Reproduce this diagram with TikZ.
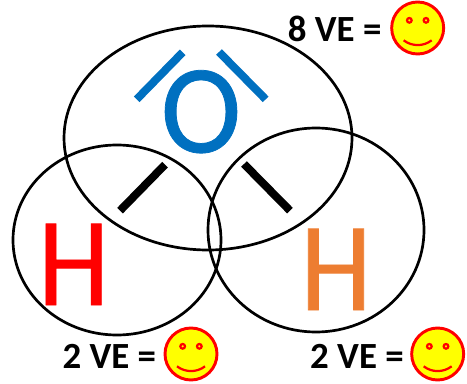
\documentclass[tikz,border=0pt]{standalone}
\usepackage{fontspec}
\setmainfont{Carlito}
\newfontfamily\atomfont[FakeBold=0.6]{Carlito}
\usepackage{xcolor}
\usepackage{graphicx}
\usetikzlibrary{arrows.meta, positioning}
\definecolor{blueA}{HTML}{0070C0}
\definecolor{redA}{HTML}{FF0000}
\definecolor{orangeA}{HTML}{ED7D31}
\definecolor{yellowA}{HTML}{FFFF00}
\tikzset{
  shell/.style={draw=black, line width=2.3pt},
  atom/.style={text=#1, inner sep=0pt, anchor=base, font=\atomfont\fontsize{108}{108}\selectfont},
  count/.style={inner sep=0pt, anchor=base east, font=\fontsize{31.5}{31.5}\selectfont\bfseries},
  bond/.style={draw=#1, line width=6.8pt},
  face/.style={circle, draw=redA, fill=yellowA, line width=2.5pt, minimum size=1.56cm, inner sep=0pt},
  eye/.style={draw=redA, line width=1.9pt},
  pics/smiley/.style={code={
    \node[face] (-disc) at (0,0) {};
    \draw[eye] (-0.25,0.23) circle (0.07);
    \draw[eye] (0.25,0.23) circle (0.07);
    \draw[eye] (-0.42,-0.37) .. controls (-0.17,-0.56) and (0.17,-0.56) .. (0.42,-0.37);
  }}
}
\begin{document}
\begin{tikzpicture}
  \useasboundingbox (0,0) rectangle (14.01,11.49);
  \draw[shell] (6.24,7.35) ellipse [x radius=4.32, y radius=3.36];
  \draw[shell] (3.51,4.29) ellipse [x radius=3.12, y radius=2.85];
  \draw[shell] (9.48,4.59) ellipse [x radius=3.24, y radius=3.06];
  \node[atom=blueA] (oxygen) at (6.03,6.92) {\scalebox{0.96}[1]{O}};
  \node[atom=redA] (hleft) at (2.21,2.34) {\scalebox{0.9}[1]{H}};
  \node[atom=orangeA] (hright) at (10.08,2.19) {\scalebox{0.9}[1]{H}};
  \draw[bond=blueA] (4.10,8.51) -- (5.48,9.92);
  \draw[bond=blueA] (6.57,9.93) -- (7.97,8.51);
  \draw[bond=black] (4.95,6.55) -- (3.60,5.17);
  \draw[bond=black] (7.32,6.57) -- (8.70,5.17);
  \node[count] (vetop) at (11.45,10.23) {8 VE =};
  \node[count] (veleft) at (4.69,0.45) {2 VE =};
  \node[count] (veright) at (12.12,0.45) {2 VE =};
  \pic (facetop) at (12.53,10.65) {smiley};
  \pic (faceleft) at (5.73,0.87) {smiley};
  \pic (faceright) at (13.13,0.87) {smiley};
\end{tikzpicture}
\end{document}
